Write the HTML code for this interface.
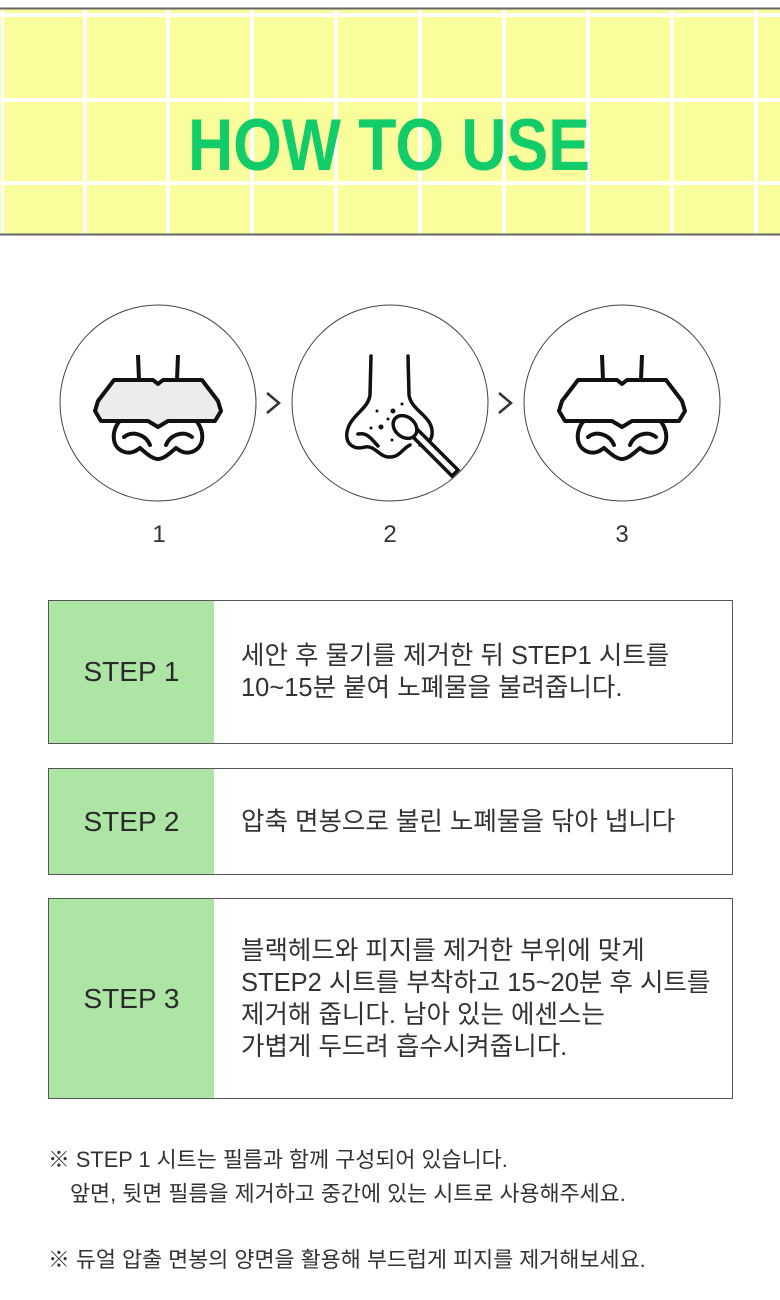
<!DOCTYPE html>
<html><head><meta charset="utf-8"><style>
body{margin:0;width:780px;height:1300px;background:#fff;font-family:"Liberation Sans","Noto Sans CJK KR",sans-serif;color:#333;position:relative;overflow:hidden}
.box{position:absolute;left:48px;width:685px;border:1px solid #555;background:#fff;box-sizing:border-box}
.lab{position:absolute;left:0;top:0;bottom:0;width:165px;background:#ade5a4;display:flex;align-items:center;justify-content:center;font-size:28px;color:#2a2a2a}
.txt{position:absolute;left:192px;right:0;top:0;bottom:0;display:flex;align-items:center;font-size:25.5px;line-height:32px;color:#333;white-space:nowrap}
.note{position:absolute;left:48px;font-size:21.8px;color:#333;white-space:nowrap}
</style></head><body>
<svg width="780" height="1300" style="position:absolute;left:0;top:0">
<rect x="0" y="8" width="780" height="227" fill="#f9fd9c"/>
<g fill="#fff">
<rect x="0" y="13" width="780" height="4"/><rect x="0" y="98" width="780" height="4"/><rect x="0" y="181" width="780" height="4"/>
<rect x="1" y="9" width="3" height="225"/><rect x="83" y="9" width="4" height="225"/><rect x="166" y="9" width="4" height="225"/><rect x="250" y="9" width="4" height="225"/><rect x="334" y="9" width="4" height="225"/><rect x="418" y="9" width="4" height="225"/><rect x="502" y="9" width="4" height="225"/><rect x="586" y="9" width="4" height="225"/><rect x="670" y="9" width="4" height="225"/><rect x="754" y="9" width="4" height="225"/>
</g>
<rect x="0" y="7.5" width="780" height="2" fill="#666"/><rect x="0" y="233.5" width="780" height="2" fill="#666"/>
<text x="188" y="170" font-size="73" font-weight="bold" fill="#12cc6a" textLength="402" lengthAdjust="spacingAndGlyphs" font-family="Liberation Sans,sans-serif">HOW TO USE</text>

<g fill="none" stroke="#444" stroke-width="1"><circle cx="158" cy="403" r="98"/><circle cx="390" cy="403" r="98"/><circle cx="622" cy="403" r="98"/></g>
<g fill="none" stroke="#333" stroke-width="2.5"><polyline points="267,393 279,403 267,413"/><polyline points="499,393 511,403 499,413"/></g>

<defs><g id="nose">
<path d="M-20,-48 L-19,-23 M20,-48 L19,-23" stroke="#111" stroke-width="4" fill="none"/>
<path d="M-36,16 C-46,24 -48,42 -36,48 C-28,52 -22,48 -18,45 C-10,52 -5,56 0,56 C5,56 10,52 18,45 C22,48 28,52 36,48 C48,42 46,24 36,16 Z" stroke="#111" stroke-width="4" fill="#fff" stroke-linejoin="round"/>
<path d="M-34,34 C-25,27 -12,32 -8,42 M34,34 C25,27 12,32 8,42" stroke="#111" stroke-width="4" fill="none" stroke-linecap="round"/>
</g></defs>
<g transform="translate(158,403)">
<use href="#nose"/>
<path d="M-44,-23 L-5,-23 L0,-19 L5,-23 L44,-23 L60,-2 L63,8 L57,18 L10,18 L0,24 L-10,18 L-57,18 L-63,8 L-60,-2 Z" fill="#ececec" stroke="#111" stroke-width="4" stroke-linejoin="round"/>
</g>
<g transform="translate(622,403)">
<use href="#nose"/>
<path d="M-44,-23 L-5,-23 L0,-19 L5,-23 L44,-23 L60,-2 L63,8 L57,18 L10,18 L0,24 L-10,18 L-57,18 L-63,8 L-60,-2 Z" fill="#fff" stroke="#111" stroke-width="4" stroke-linejoin="round"/>
</g>
<g stroke="#111" stroke-width="3.5" fill="none" stroke-linecap="round">
<path d="M371,356 L370,395 C368,410 350,415 347,432 C345,445 355,450 365,447 C375,445 380,458 390,457 C400,457 403,448 410,445"/>
<path d="M408,356 L409,395 C411,410 430,415 432,430 C433,440 428,444 420,445"/>
<path d="M358,434 C368,432 372,440 378,446"/>
<g fill="#fff"><path d="M412,436 L452,476 L458,470 L418,430 Z"/><ellipse cx="405" cy="427" rx="13" ry="10" transform="rotate(40 405 427)"/></g>
</g>
<g fill="#111"><circle cx="377" cy="411" r="1.5"/><circle cx="393" cy="411" r="2.5"/><circle cx="402" cy="404" r="1.5"/><circle cx="388" cy="419" r="1.5"/><circle cx="371" cy="428" r="1.5"/><circle cx="381" cy="427" r="2.5"/><circle cx="392" cy="440" r="1.5"/></g>
<g font-size="24" fill="#333" text-anchor="middle"><text x="159" y="542">1</text><text x="390" y="542">2</text><text x="622" y="542">3</text></g>
</svg>

<div class="box" style="top:600px;height:144px"><div class="lab">STEP 1</div><div class="txt">세안 후 물기를 제거한 뒤 STEP1 시트를<br>10~15분 붙여 노폐물을 불려줍니다.</div></div>
<div class="box" style="top:768px;height:107px"><div class="lab">STEP 2</div><div class="txt">압축 면봉으로 불린 노폐물을 닦아 냅니다</div></div>
<div class="box" style="top:898px;height:201px"><div class="lab">STEP 3</div><div class="txt">블랙헤드와 피지를 제거한 부위에 맞게<br>STEP2 시트를 부착하고 15~20분 후 시트를<br>제거해 줍니다. 남아 있는 에센스는<br>가볍게 두드려 흡수시켜줍니다.</div></div>

<div class="note" style="top:1143px">※ STEP 1 시트는 필름과 함께 구성되어 있습니다.</div>
<div class="note" style="top:1177px;left:70px">앞면, 뒷면 필름을 제거하고 중간에 있는 시트로 사용해주세요.</div>
<div class="note" style="top:1243px">※ 듀얼 압출 면봉의 양면을 활용해 부드럽게 피지를 제거해보세요.</div>
</body></html>
